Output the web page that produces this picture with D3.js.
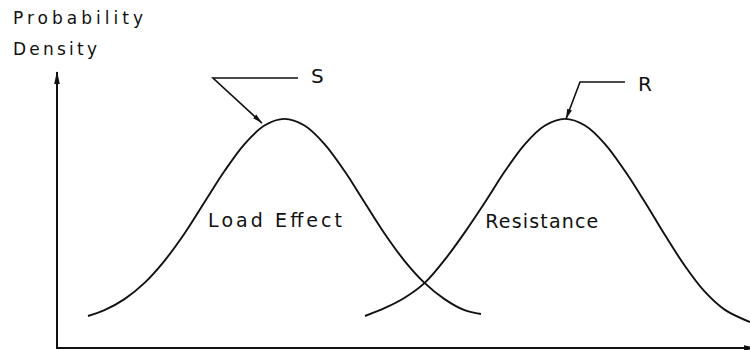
<!DOCTYPE html>
<html>
<head>
<meta charset="utf-8">
<script src="https://cdn.jsdelivr.net/npm/d3@7"></script>
<style>
  html, body { margin: 0; padding: 0; background: #fff; }
  svg { display: block; }
  text { font-family: "DejaVu Sans", sans-serif; fill: #111; }
</style>
</head>
<body>
<svg id="chart" width="750" height="350"></svg>
<script>
// ---- data (abstract units) ----
const loadEffectX = [0.447, 0.685, 0.974, 1.263, 1.551, 1.840, 2.128, 2.417, 2.706, 2.994, 3.283,
                     3.571, 3.860, 4.149, 4.437, 4.726, 5.014, 5.303, 5.592, 5.880, 6.118];
const loadEffectY = [0.116, 0.137, 0.177, 0.236, 0.316, 0.415, 0.528, 0.641, 0.739, 0.806, 0.830,
                     0.806, 0.739, 0.641, 0.528, 0.415, 0.316, 0.236, 0.177, 0.137, 0.123];
const resistanceX = [4.444, 4.733, 5.022, 5.310, 5.599, 5.887, 6.176, 6.465, 6.753, 7.042, 7.330,
                     7.619, 7.908, 8.196, 8.485, 8.773, 9.062, 9.351, 9.639, 10.0];
const resistanceY = [0.116, 0.145, 0.183, 0.237, 0.321, 0.420, 0.528, 0.641, 0.739, 0.806, 0.830,
                     0.806, 0.739, 0.641, 0.528, 0.409, 0.297, 0.203, 0.138, 0.094];

const curveLabels = ["Load Effect", "Resistance"];
const curveLabelX = [2.18, 6.18];
const curveLabelY = [0.438, 0.435];

const yAxisTitle = ["Probability", "Density"];

// annotations: label, arrow tip, knee, end of leader
const annoLabels = ["S", "R"];
const annoTipX  = [2.958, 7.345];
const annoTipY  = [0.815, 0.830];
const annoKneeX = [2.251, 7.547];
const annoKneeY = [0.978, 0.964];
const annoEndX  = [3.478, 8.196];
const annoEndY  = [0.978, 0.964];

// ---- scales ----
const svg = d3.select("#chart");
const x = d3.scaleLinear().domain([0, 10]).range([57, 750]);
const y = d3.scaleLinear().domain([0, 1]).range([348, 72]);

const defs = svg.append("defs");
defs.append("marker")
  .attr("id", "axArrow").attr("viewBox", "0 0 13 8")
  .attr("refX", 12).attr("refY", 4)
  .attr("markerWidth", 13).attr("markerHeight", 8)
  .attr("markerUnits", "userSpaceOnUse").attr("orient", "auto")
  .append("path").attr("d", "M0,1.2 L13,4 L0,6.8 Z").attr("fill", "#111");
defs.append("marker")
  .attr("id", "annArrow").attr("viewBox", "0 0 10 6")
  .attr("refX", 10).attr("refY", 3)
  .attr("markerWidth", 10).attr("markerHeight", 6)
  .attr("markerUnits", "userSpaceOnUse").attr("orient", "auto")
  .append("path").attr("d", "M0,0.5 L10,3 L0,5.5 Z").attr("fill", "#111");

// ---- axes ----
const yAxis = svg.append("g").attr("transform", `translate(${x(0)},0)`)
  .call(d3.axisLeft(y).tickValues([]).tickSizeOuter(0));
yAxis.select(".domain").attr("stroke", "#111").attr("stroke-width", 2)
  .attr("d", `M0,${y(0)}V${y(1)}`).attr("marker-end", "url(#axArrow)");

const xAxis = svg.append("g").attr("transform", `translate(0,${y(0)})`)
  .call(d3.axisBottom(x).tickValues([]).tickSizeOuter(0));
xAxis.select(".domain").attr("stroke", "#111").attr("stroke-width", 2.2)
  .attr("d", `M${x(0) - 1},0H${x(10) + 6}`).attr("marker-end", "url(#axArrow)");

// ---- curves ----
const line = d3.line().x(d => x(d[0])).y(d => y(d[1])).curve(d3.curveCatmullRom.alpha(0.5));
const series = [d3.zip(loadEffectX, loadEffectY), d3.zip(resistanceX, resistanceY)];
svg.selectAll("path.curve").data(series).join("path")
  .attr("class", "curve")
  .attr("d", line)
  .attr("fill", "none").attr("stroke", "#111").attr("stroke-width", 1.9);

// ---- curve labels ----
svg.selectAll("text.clabel").data(curveLabels).join("text")
  .attr("class", "clabel")
  .attr("x", (d, i) => x(curveLabelX[i]))
  .attr("y", (d, i) => y(curveLabelY[i]))
  .attr("font-size", 19)
  .attr("textLength", (d, i) => i === 0 ? 134 : 113)
  .attr("lengthAdjust", "spacing")
  .text(d => d);

// ---- y axis title ----
svg.selectAll("text.ytitle").data(yAxisTitle).join("text")
  .attr("class", "ytitle")
  .attr("x", 13)
  .attr("y", (d, i) => 24 + i * 31)
  .attr("font-size", 17)
  .attr("textLength", (d, i) => i === 0 ? 130 : 84)
  .attr("lengthAdjust", "spacing")
  .text(d => d);

// ---- annotations ----
annoLabels.forEach((lab, i) => {
  svg.append("path")
    .attr("d", `M${x(annoEndX[i])},${y(annoEndY[i])}L${x(annoKneeX[i])},${y(annoKneeY[i])}L${x(annoTipX[i])},${y(annoTipY[i])}`)
    .attr("fill", "none").attr("stroke", "#111").attr("stroke-width", 1.6)
    .attr("marker-end", "url(#annArrow)");
  svg.append("text")
    .attr("x", x(annoEndX[i]) + 13)
    .attr("y", y(annoEndY[i]) + (i === 0 ? 5 : 9))
    .attr("font-size", 20)
    .text(lab);
});
</script>
</body>
</html>
